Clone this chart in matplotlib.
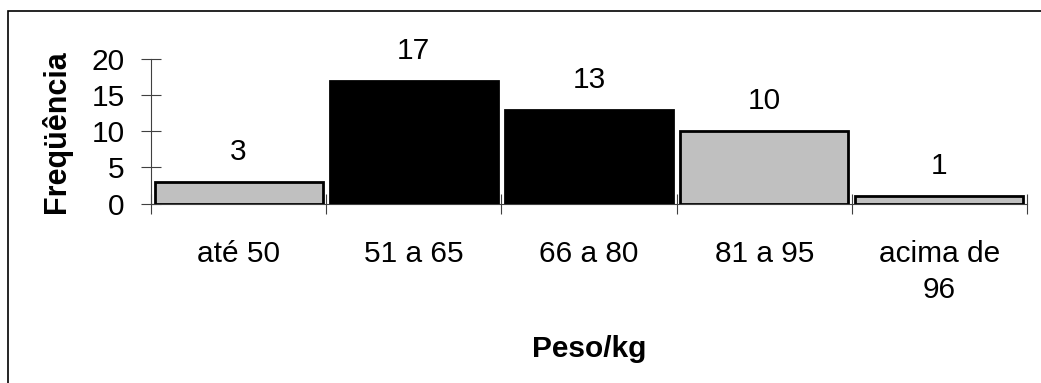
import matplotlib.pyplot as plt
from matplotlib.patches import Rectangle

faixas = ["até 50", "51 a 65", "66 a 80", "81 a 95", "acima de\n96"]
frequencias = [3, 17, 13, 10, 1]
cores = ["#c0c0c0", "#000000", "#000000", "#c0c0c0", "#c0c0c0"]

plt.rcParams["font.family"] = ["Liberation Sans", "DejaVu Sans"]

W, H = 1041, 383
fs = 21.5
fig = plt.figure(figsize=(W / 100, H / 100), dpi=100)

# moldura do gráfico (apenas topo e lado esquerdo aparecem)
fig.patches.append(Rectangle((8 / W, -0.1), 1.2, 1 - 11 / H + 0.1,
                             transform=fig.transFigure, fill=False,
                             edgecolor="black", linewidth=1.2))

ax = fig.add_axes([151 / W, 1 - 203.5 / H, (1027 - 151) / W, (203.5 - 59) / H])

pos = list(range(len(faixas)))
ax.bar(pos, frequencias, width=0.96, color=cores, edgecolor="black",
       linewidth=2, zorder=3)
for x, v in zip(pos, frequencias):
    ax.text(x, v + 2.2, str(v), ha="center", va="bottom", fontsize=fs)

ax.set_xlim(-0.5, len(faixas) - 0.5)
ax.set_ylim(0, 20)
ax.set_yticks([0, 5, 10, 15, 20])
ax.set_xticks([p - 0.5 for p in pos] + [len(faixas) - 0.5])
ax.set_xticklabels([])
ax.set_xticks(pos, minor=True)
ax.set_xticklabels(faixas, minor=True, fontsize=fs, linespacing=1.4, va="top")
ax.tick_params(axis="x", which="minor", length=0, pad=26)
ax.tick_params(axis="x", which="major", direction="inout", length=14, width=0.8, color="#404040")
ax.tick_params(axis="y", direction="inout", length=14, width=0.8, color="#404040",
               labelsize=fs, pad=12)

for s in ["top", "right"]:
    ax.spines[s].set_visible(False)
for s in ["left", "bottom"]:
    ax.spines[s].set_color("#404040")
    ax.spines[s].set_linewidth(0.8)

ax.set_ylabel("Freqüência", fontsize=22, fontweight="bold", labelpad=14)
ax.set_xlabel("Peso/kg", fontsize=fs, fontweight="bold", labelpad=22)

fig.savefig("out.png", dpi=100)
